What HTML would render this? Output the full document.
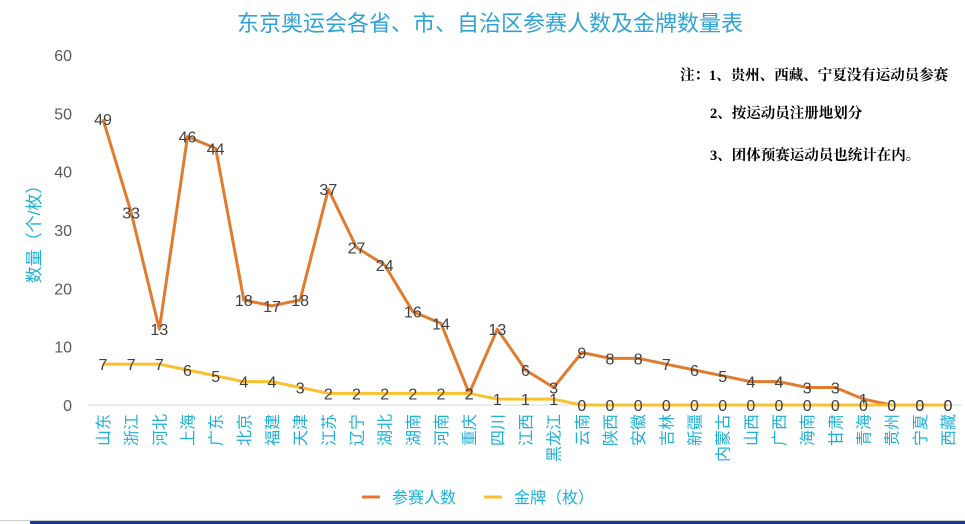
<!DOCTYPE html>
<html><head><meta charset="utf-8"><style>
body{margin:0;background:#fff;width:965px;height:524px;overflow:hidden}
svg{display:block;font-family:"Liberation Sans","Noto Sans CJK SC",sans-serif}
</style></head><body>
<svg id="chart" width="965" height="524">
<text x="490" y="31" text-anchor="middle" font-size="22" fill="#2fa3d6">东京奥运会各省、市、自治区参赛人数及金牌数量表</text>
<text transform="translate(40,230) rotate(-90)" text-anchor="middle" font-size="17" fill="#1fb0d8">数量（个/枚）</text>
<g font-size="14.5" font-weight="bold" fill="#000" font-family="'Liberation Serif','Noto Serif CJK SC',serif">
<text x="680" y="80">注：1、贵州、西藏、宁夏没有运动员参赛</text>
<text x="710" y="118">2、按运动员注册地划分</text>
<text x="710" y="160">3、团体预赛运动员也统计在内。</text>
</g>
<g id="axes"></g><g id="series"></g>
<g>
<line x1="362" y1="497" x2="380" y2="497" stroke="#e07b30" stroke-width="3"/>
<text x="392" y="503" font-size="16" fill="#1fb0d8">参赛人数</text>
<line x1="484" y1="497" x2="502" y2="497" stroke="#fbc02d" stroke-width="3"/>
<text x="514" y="503" font-size="16" fill="#1fb0d8">金牌（枚）</text>
</g>
<rect x="0" y="520" width="965" height="1" fill="#ccc"/>
<rect x="30" y="521" width="935" height="3" fill="#1b3a8c"/>
</svg>
<script>
const categories=["山东","浙江","河北","上海","广东","北京","福建","天津","江苏","辽宁","湖北","湖南","河南","重庆","四川","江西","黑龙江","云南","陕西","安徽","吉林","新疆","内蒙古","山西","广西","海南","甘肃","青海","贵州","宁夏","西藏"];
const participants=[49,33,13,46,44,18,17,18,37,27,24,16,14,2,13,6,3,9,8,8,7,6,5,4,4,3,3,1,0,0,0];
const golds=[7,7,7,6,5,4,4,3,2,2,2,2,2,2,1,1,1,0,0,0,0,0,0,0,0,0,0,0,0,0,0];
const yTicks=[0,10,20,30,40,50,60];
const NS="http://www.w3.org/2000/svg";
const x0=103,x1=948,yBase=405,yTop=55,yMax=60;
const xs=i=>x0+(x1-x0)*i/(categories.length-1);
const ys=v=>yBase-(yBase-yTop)*v/yMax;
function mk(tag,attrs,parent){const e=document.createElementNS(NS,tag);for(const k in attrs)e.setAttribute(k,attrs[k]);parent.appendChild(e);return e;}
const ax=document.getElementById('axes'),se=document.getElementById('series');
const bl=mk('line',{x1:88,x2:962,y1:yBase,y2:yBase,stroke:'#d9d9d9','stroke-width':1},ax);


yTicks.forEach(t=>{const e=mk('text',{x:72,y:ys(t)+6,'text-anchor':'end','font-size':16,fill:'#595959'},ax);e.textContent=t;

});
categories.forEach((c,i)=>{const e=mk('text',{transform:`translate(${xs(i)+6},414) rotate(-90)`,'text-anchor':'end','font-size':16,fill:'#1fb0d8'},ax);e.textContent=c;

});
function series(vals,color,name){
const p=mk('polyline',{points:vals.map((v,i)=>xs(i)+','+ys(v)).join(' '),fill:'none',stroke:color,'stroke-width':3,'stroke-linejoin':'round'},se);


vals.forEach((v,i)=>{const t=mk('text',{x:xs(i),y:ys(v)+6,'text-anchor':'middle','font-size':16,fill:'#404040'},se);t.textContent=v;

});}
series(participants,'#e07b30','participants');
series(golds,'#fbc02d','gold');
</script>
</body></html>
